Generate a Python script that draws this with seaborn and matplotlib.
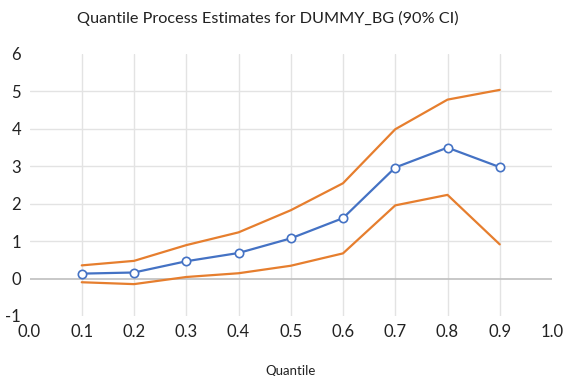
import matplotlib
matplotlib.use("Agg")
import matplotlib.pyplot as plt
import seaborn as sns
import pandas as pd

quantiles = [0.1, 0.2, 0.3, 0.4, 0.5, 0.6, 0.7, 0.8, 0.9]
estimate = [0.13, 0.16, 0.46, 0.68, 1.07, 1.61, 2.96, 3.49, 2.97]
upper_ci = [0.35, 0.47, 0.89, 1.23, 1.82, 2.54, 3.98, 4.77, 5.03]
lower_ci = [-0.10, -0.15, 0.04, 0.14, 0.34, 0.67, 1.95, 2.23, 0.91]
x_ticks = [0.0, 0.1, 0.2, 0.3, 0.4, 0.5, 0.6, 0.7, 0.8, 0.9, 1.0]
y_ticks = [-1, 0, 1, 2, 3, 4, 5, 6]

sns.set_theme(style="white")
plt.rcParams["font.family"] = ["Lato", "DejaVu Sans"]

df = pd.DataFrame({"q": quantiles, "est": estimate, "hi": upper_ci, "lo": lower_ci})

fig = plt.figure(figsize=(5.65, 3.76), dpi=100)
ax = fig.add_axes([29.5 / 565, 1 - 316 / 376, (552 - 29.5) / 565, (316 - 53.5) / 376])

blue = "#4472C4"
orange = "#E67E2E"
grid_c = "#E3E3E3"

sns.lineplot(data=df, x="q", y="hi", color=orange, linewidth=1.6, ax=ax, zorder=3)
sns.lineplot(data=df, x="q", y="lo", color=orange, linewidth=1.6, ax=ax, zorder=3)
sns.lineplot(data=df, x="q", y="est", color=blue, linewidth=1.6, marker="o",
             markersize=6, markerfacecolor="white", markeredgecolor=blue,
             markeredgewidth=1.2, ax=ax, zorder=4)

ax.set_xlim(x_ticks[0], x_ticks[-1])
ax.set_ylim(y_ticks[0], y_ticks[-1])
ax.set_xticks(x_ticks)
ax.set_xticklabels([f"{v:.1f}" for v in x_ticks])
ax.set_yticks(y_ticks)
ax.set_yticklabels([str(v) for v in y_ticks])

# interior gridlines only; zero line drawn darker
for v in x_ticks[1:-1]:
    ax.axvline(v, color=grid_c, linewidth=1.0, zorder=1)
for v in y_ticks[2:-1]:
    ax.axhline(v, color=grid_c, linewidth=1.0, zorder=1)
ax.axhline(0, color="#BFBFBF", linewidth=1.2, zorder=2)

for s in ax.spines.values():
    s.set_visible(False)
ax.tick_params(axis="both", length=0, labelsize=12, colors="#222222", pad=6)

ax.set_xlabel("Quantile", fontsize=9.5, color="#222222", labelpad=18)
ax.set_ylabel("")
fig.text(267.5 / 565, 1 - 18 / 376, "Quantile Process Estimates for DUMMY_BG (90% CI)",
         fontsize=11.7, color="#222222", ha="center", va="center")

fig.savefig("out.png", dpi=100)
